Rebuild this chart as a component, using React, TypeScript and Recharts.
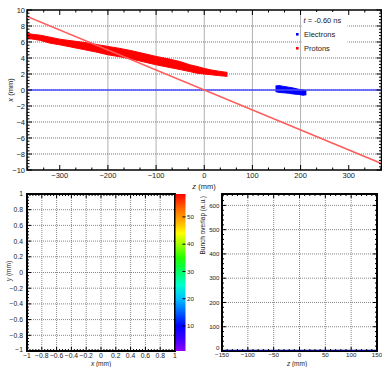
import React from 'react';
import { ComposedChart, XAxis, YAxis, Area, Line, ReferenceArea, CartesianGrid } from 'recharts';

const FONT = '"Liberation Sans", Arial, Helvetica, sans-serif';
const TXT = '#222';

// ---------------- top panel: x vs z ----------------
const protonZ = [-368, -355, -340, -320, -300, -275, -250, -225, -200, -175, -150, -125, -100, -75, -50, -30, -15, 0, 15, 30, 48];
const protonHigh = [7.1, 6.95, 6.85, 6.6, 6.35, 6.15, 5.95, 5.7, 5.45, 5.2, 4.9, 4.55, 4.2, 3.9, 3.55, 3.15, 2.95, 2.7, 2.5, 2.35, 2.2];
const protonLow = [6.45, 6.35, 6.2, 5.85, 5.65, 5.35, 5.05, 4.75, 4.4, 4.15, 3.85, 3.5, 3.15, 2.85, 2.55, 2.3, 2.1, 2.0, 1.9, 1.8, 1.7];
const electronZ = [148, 155, 165, 175, 185, 195, 205, 212];
const electronHigh = [0.5, 0.55, 0.45, 0.35, 0.25, 0.1, 0.0, -0.15];
const electronLow = [-0.2, -0.3, -0.35, -0.4, -0.5, -0.55, -0.65, -0.6];
const guideZ = [-368, 368];
const protonGuideX = [9.2, -9.2];
const electronGuideX = [0, 0];

const topZDomain: [number, number] = [-368, 368];
const topXDomain: [number, number] = [-10, 10];
const topZTicks = [-300, -200, -100, 0, 100, 200, 300];
const topZLabels = ['\u2212300', '\u2212200', '\u2212100', '0', '100', '200', '300'];
const topXTicks = [-10, -8, -6, -4, -2, 0, 2, 4, 6, 8, 10];
const topXLabels = ['\u221210', '\u22128', '\u22126', '\u22124', '\u22122', '0', '2', '4', '6', '8', '10'];

// ---------------- bottom-left: y vs x ----------------
const xyDomain: [number, number] = [-1, 1];
const xyTicks = [-1, -0.8, -0.6, -0.4, -0.2, 0, 0.2, 0.4, 0.6, 0.8, 1];
const xyLabels = ['\u22121', '\u22120.8', '\u22120.6', '\u22120.4', '\u22120.2', '0', '0.2', '0.4', '0.6', '0.8', '1'];
const overlapMapPoints: { x: number; y: number }[] = [];

// colour bar
const colorDomain: [number, number] = [0.83, 58.4];
const colorTicks = [10, 20, 30, 40, 50];
const colorLabels = ['10', '20', '30', '40', '50'];
const paletteValues = [58.4, 53, 48, 44, 40, 35, 30, 25, 20, 15, 10, 5, 0.83];
const paletteColors = ['#ff0000', '#ff6a00', '#ffb400', '#ffff00', '#a0ff00', '#20ff00', '#00ff60', '#00ffd0', '#00c0ff', '#0060ff', '#0000ff', '#4000ff', '#9000ff'];

// ---------------- bottom-right: overlap vs z ----------------
const profileZ = [-150, 150];
const profileOverlap = [0, 0];
const profZDomain: [number, number] = [-150, 150];
const profYDomain: [number, number] = [0, 647];
const profZTicks = [-150, -100, -50, 0, 50, 100, 150];
const profZLabels = ['\u2212150', '\u2212100', '\u221250', '0', '50', '100', '150'];
const profYTicks = [0, 100, 200, 300, 400, 500, 600];
const profYLabels = ['0', '100', '200', '300', '400', '500', '600'];

// ---------------- helpers ----------------
function withMinor(majors: number[], sub: number, lo: number, hi: number): number[] {
  const step = (majors[1] - majors[0]) / sub;
  const out: number[] = [];
  const r = (v: number) => Math.round(v * 1e6) / 1e6;
  for (let k = 0; ; k++) {
    const v = majors[0] - k * step;
    if (v < lo - 1e-9) break;
    out.push(r(v));
  }
  for (let k = 1; ; k++) {
    const v = majors[0] + k * step;
    if (v > hi + 1e-9) break;
    out.push(r(v));
  }
  return out.sort((a, b) => a - b);
}

type Side = 'bottom' | 'top' | 'left' | 'right';
interface TickOpts {
  side: Side;
  majors: number[];
  labels?: string[];
  majorLen: number;
  minorLen: number;
  fontSize?: number;
  gap?: number;
  firstDy?: number;
}
function makeTick(o: TickOpts) {
  return (props: any) => {
    const { x, y, payload } = props;
    const v = payload ? payload.value : NaN;
    const idx = o.majors.findIndex((m) => Math.abs(m - v) < 1e-6);
    const len = idx >= 0 ? o.majorLen : o.minorLen;
    let x2 = x;
    let y2 = y;
    if (o.side === 'bottom') y2 = y - len;
    if (o.side === 'top') y2 = y + len;
    if (o.side === 'left') x2 = x + len;
    if (o.side === 'right') x2 = x - len;
    let label: React.ReactNode = null;
    if (idx >= 0 && o.labels) {
      const fs = o.fontSize ?? 7;
      const gap = o.gap ?? 3;
      const dy = idx === 0 && o.firstDy ? o.firstDy : 0;
      const common = { fontSize: fs, fontFamily: FONT, fill: TXT };
      if (o.side === 'bottom')
        label = (
          <text x={x} y={y + gap + fs * 0.72 + dy} textAnchor="middle" {...common}>
            {o.labels[idx]}
          </text>
        );
      else if (o.side === 'left')
        label = (
          <text x={x - gap} y={y + fs * 0.36 + dy} textAnchor="end" {...common}>
            {o.labels[idx]}
          </text>
        );
      else if (o.side === 'right')
        label = (
          <text x={x + gap} y={y + fs * 0.36 + dy} textAnchor="start" {...common}>
            {o.labels[idx]}
          </text>
        );
    }
    return (
      <g>
        {len > 0 && <line x1={x} y1={y} x2={x2} y2={y2} stroke="#000" strokeWidth={1} />}
        {label}
      </g>
    );
  };
}

const AX = 0.5; // thin axis box so recharts renders ticks
const axisCommon = {
  type: 'number' as const,
  interval: 0 as const,
  tickSize: 0,
  tickMargin: 0,
  tickLine: false,
  axisLine: false,
  allowDataOverflow: true,
};

// merged table for the top panel
type Row = { z: number; p?: [number, number]; e?: [number, number]; pg?: number; eg?: number };
const rowMap = new Map<number, Row>();
const rowAt = (z: number) => {
  if (!rowMap.has(z)) rowMap.set(z, { z });
  return rowMap.get(z)!;
};
protonZ.forEach((z, i) => (rowAt(z).p = [protonLow[i], protonHigh[i]]));
electronZ.forEach((z, i) => (rowAt(z).e = [electronLow[i], electronHigh[i]]));
guideZ.forEach((z, i) => {
  rowAt(z).pg = protonGuideX[i];
  rowAt(z).eg = electronGuideX[i];
});
const topData = Array.from(rowMap.values()).sort((a, b) => a.z - b.z);

const profileData = profileZ.map((z, i) => ({ z, v: profileOverlap[i] }));
const colorBarData = [{ c: 0 }, { c: 1 }];

const topZAll = withMinor(topZTicks, 3, topZDomain[0], topZDomain[1]);
const topXAll = withMinor(topXTicks, 5, topXDomain[0], topXDomain[1]);
const xyAll = withMinor(xyTicks, 5, -1, 1);
const profZAll = withMinor(profZTicks, 5, profZDomain[0], profZDomain[1]);
const profYAll = withMinor(profYTicks, 5, profYDomain[0], profYDomain[1]);

const W = 382;
const H = 367;
const abs: React.CSSProperties = { position: 'absolute', left: 0, top: 0 };

function TopPanel() {
  return (
    <ComposedChart width={W} height={H} data={topData} margin={{ top: 10 - AX, left: 27 - AX, right: 0, bottom: 197 - AX }}>
      <CartesianGrid horizontal={false} verticalValues={topZTicks.slice(1, -1)} stroke="#b0b0b0" strokeWidth={1} />
      <CartesianGrid vertical={false} horizontalValues={topXTicks.slice(1, -1)} stroke="#777" strokeDasharray="1 1" strokeWidth={1} />
      <XAxis {...axisCommon} dataKey="z" domain={topZDomain} ticks={topZAll} height={AX}
        tick={makeTick({ side: 'bottom', majors: topZTicks, labels: topZLabels, majorLen: 5, minorLen: 2.5, fontSize: 7.5, gap: 2.8 })} />
      <XAxis {...axisCommon} xAxisId="top" orientation="top" dataKey="z" domain={topZDomain} ticks={topZAll} height={AX}
        tick={makeTick({ side: 'top', majors: topZTicks, majorLen: 5, minorLen: 2.5 })} />
      <YAxis {...axisCommon} domain={topXDomain} ticks={topXAll} width={AX}
        tick={makeTick({ side: 'left', majors: topXTicks, labels: topXLabels, majorLen: 5, minorLen: 2.5, fontSize: 7.5, gap: 2 })} />
      <YAxis {...axisCommon} yAxisId="right" orientation="right" domain={topXDomain} ticks={topXAll} width={AX}
        tick={makeTick({ side: 'right', majors: topXTicks, majorLen: 5, minorLen: 2.5 })} />
      <Line dataKey="eg" type="linear" stroke="#4a4aff" strokeWidth={1.6} dot={false} activeDot={false} connectNulls isAnimationActive={false} />
      <Line dataKey="pg" type="linear" stroke="#ff5c5c" strokeWidth={1.6} dot={false} activeDot={false} connectNulls isAnimationActive={false} />
      <Area dataKey="p" type="linear" stroke="#ff0000" strokeWidth={1} fill="#ff0000" fillOpacity={1} dot={false} activeDot={false} isAnimationActive={false} />
      <Area dataKey="e" type="linear" stroke="#0000ff" strokeWidth={1} fill="#0000ff" fillOpacity={1} dot={false} activeDot={false} isAnimationActive={false} />
      <ReferenceArea x1={topZDomain[0]} x2={topZDomain[1]} y1={topXDomain[0]} y2={topXDomain[1]} fill="none" stroke="#000" strokeWidth={1.5} ifOverflow="visible" />
    </ComposedChart>
  );
}

function MapPanel() {
  return (
    <ComposedChart width={W} height={H} data={overlapMapPoints} margin={{ top: 194 - AX, left: 27 - AX, right: 207, bottom: 16 - AX }}>
      <CartesianGrid verticalValues={xyTicks.slice(1, -1)} horizontalValues={xyTicks.slice(1, -1)} stroke="#888" strokeDasharray="1 1" strokeWidth={1} />
      <XAxis {...axisCommon} dataKey="x" domain={xyDomain} ticks={xyAll} height={AX}
        tick={makeTick({ side: 'bottom', majors: xyTicks, labels: xyLabels, majorLen: 4, minorLen: 2, fontSize: 6.8, gap: 1.8 })} />
      <XAxis {...axisCommon} xAxisId="top" orientation="top" dataKey="x" domain={xyDomain} ticks={xyAll} height={AX}
        tick={makeTick({ side: 'top', majors: xyTicks, majorLen: 4, minorLen: 2 })} />
      <YAxis {...axisCommon} dataKey="y" domain={xyDomain} ticks={xyAll} width={AX}
        tick={makeTick({ side: 'left', majors: xyTicks, labels: xyLabels, majorLen: 4, minorLen: 2, fontSize: 6.8, gap: 4, firstDy: -1.5 })} />
      <ReferenceArea x1={-1} x2={1} y1={-1} y2={1} fill="none" stroke="#000" strokeWidth={2} ifOverflow="visible" />
    </ComposedChart>
  );
}

function ColorBar() {
  return (
    <ComposedChart width={W} height={H} data={colorBarData} margin={{ top: 194, left: 175.5, right: 196.5 - AX, bottom: 16 }}>
      <XAxis type="number" dataKey="c" domain={[0, 1]} hide allowDataOverflow />
      <YAxis {...axisCommon} orientation="right" domain={colorDomain} ticks={colorTicks} width={AX}
        tick={makeTick({ side: 'right', majors: colorTicks, labels: colorLabels, majorLen: 3, minorLen: 0, fontSize: 6.2, gap: 1.5 })} />
      <ReferenceArea x1={0} x2={1} y1={colorDomain[0]} y2={colorDomain[1]} fill="url(#rainbowPal)" fillOpacity={1} stroke="none" ifOverflow="visible" />
    </ComposedChart>
  );
}

function ProfilePanel() {
  return (
    <ComposedChart width={W} height={H} data={profileData} margin={{ top: 194 - AX, left: 222 - AX, right: 5 - AX, bottom: 16 - AX }}>
      <CartesianGrid verticalValues={profZTicks.slice(1, -1)} horizontalValues={profYTicks.slice(1)} stroke="#888" strokeDasharray="1 1" strokeWidth={1} />
      <XAxis {...axisCommon} dataKey="z" domain={profZDomain} ticks={profZAll} height={AX}
        tick={makeTick({ side: 'bottom', majors: profZTicks, labels: profZLabels, majorLen: 4, minorLen: 2, fontSize: 6.2, gap: 2 })} />
      <XAxis {...axisCommon} xAxisId="top" orientation="top" dataKey="z" domain={profZDomain} ticks={profZAll} height={AX}
        tick={makeTick({ side: 'top', majors: profZTicks, majorLen: 4, minorLen: 2 })} />
      <YAxis {...axisCommon} domain={profYDomain} ticks={profYAll} width={AX}
        tick={makeTick({ side: 'left', majors: profYTicks, labels: profYLabels, majorLen: 4, minorLen: 2, fontSize: 6.2, gap: 2.5, firstDy: -3.5 })} />
      <YAxis {...axisCommon} yAxisId="right" orientation="right" domain={profYDomain} ticks={profYAll} width={AX}
        tick={makeTick({ side: 'right', majors: profYTicks, majorLen: 4, minorLen: 2 })} />
      <ReferenceArea x1={profZDomain[0]} x2={profZDomain[1]} y1={profYDomain[0]} y2={profYDomain[1]} fill="none" stroke="#000" strokeWidth={2} ifOverflow="visible" />
      <Line dataKey="v" type="linear" stroke="#000080" strokeWidth={2.6} dot={false} activeDot={false} isAnimationActive={false} />
    </ComposedChart>
  );
}

function Overlay() {
  const t = { fontFamily: FONT, fill: TXT };
  const span = colorDomain[1] - colorDomain[0];
  return (
    <svg width={W} height={H} style={{ ...abs, pointerEvents: 'none' }}>
      <defs>
        <linearGradient id="rainbowPal" x1="0" y1="0" x2="0" y2="1">
          {paletteValues.map((v, i) => (
            <stop key={i} offset={(colorDomain[1] - v) / span} stopColor={paletteColors[i]} />
          ))}
        </linearGradient>
      </defs>
      {/* top panel titles */}
      <text x={204} y={188.5} fontSize={7.5} textAnchor="middle" {...t}>
        <tspan fontStyle="italic">z</tspan> (mm)
      </text>
      <text x={13} y={90} fontSize={7.5} textAnchor="middle" transform="rotate(-90 13 90)" {...t}>
        <tspan fontStyle="italic">x</tspan> (mm)
      </text>
      {/* legend */}
      <rect x={301.5} y={12} width={46} height={43} fill="#fff" />
      <text x={303.5} y={23.3} fontSize={7.5} {...t}>
        <tspan fontStyle="italic">t</tspan> = -0.60 ns
      </text>
      <rect x={296} y={33} width={2.6} height={2.6} fill="#0000ff" />
      <text x={304} y={37} fontSize={7.5} {...t}>Electrons</text>
      <rect x={296} y={47} width={2.6} height={2.6} fill="#ff0000" />
      <text x={304} y={51} fontSize={7.5} {...t}>Protons</text>
      {/* bottom-left titles */}
      <text x={101} y={366} fontSize={6.5} textAnchor="middle" {...t}>
        <tspan fontStyle="italic">x</tspan> (mm)
      </text>
      <text x={11} y={271} fontSize={6.5} textAnchor="middle" transform="rotate(-90 11 271)" {...t}>
        <tspan fontStyle="italic">y</tspan> (mm)
      </text>
      {/* bottom-right titles */}
      <text x={297} y={366} fontSize={6.5} textAnchor="middle" {...t}>
        <tspan fontStyle="italic">z</tspan> (mm)
      </text>
      <text x={205} y={196} fontSize={6.5} textAnchor="end" transform="rotate(-90 205 196)" {...t}>
        Bunch overlap (a.u.)
      </text>
    </svg>
  );
}

export default function App() {
  return (
    <div style={{ ...abs, width: W, height: H, background: '#fff', overflow: 'hidden' }}>
      <div style={abs}><TopPanel /></div>
      <div style={abs}><MapPanel /></div>
      <div style={abs}><ColorBar /></div>
      <div style={abs}><ProfilePanel /></div>
      <Overlay />
    </div>
  );
}
